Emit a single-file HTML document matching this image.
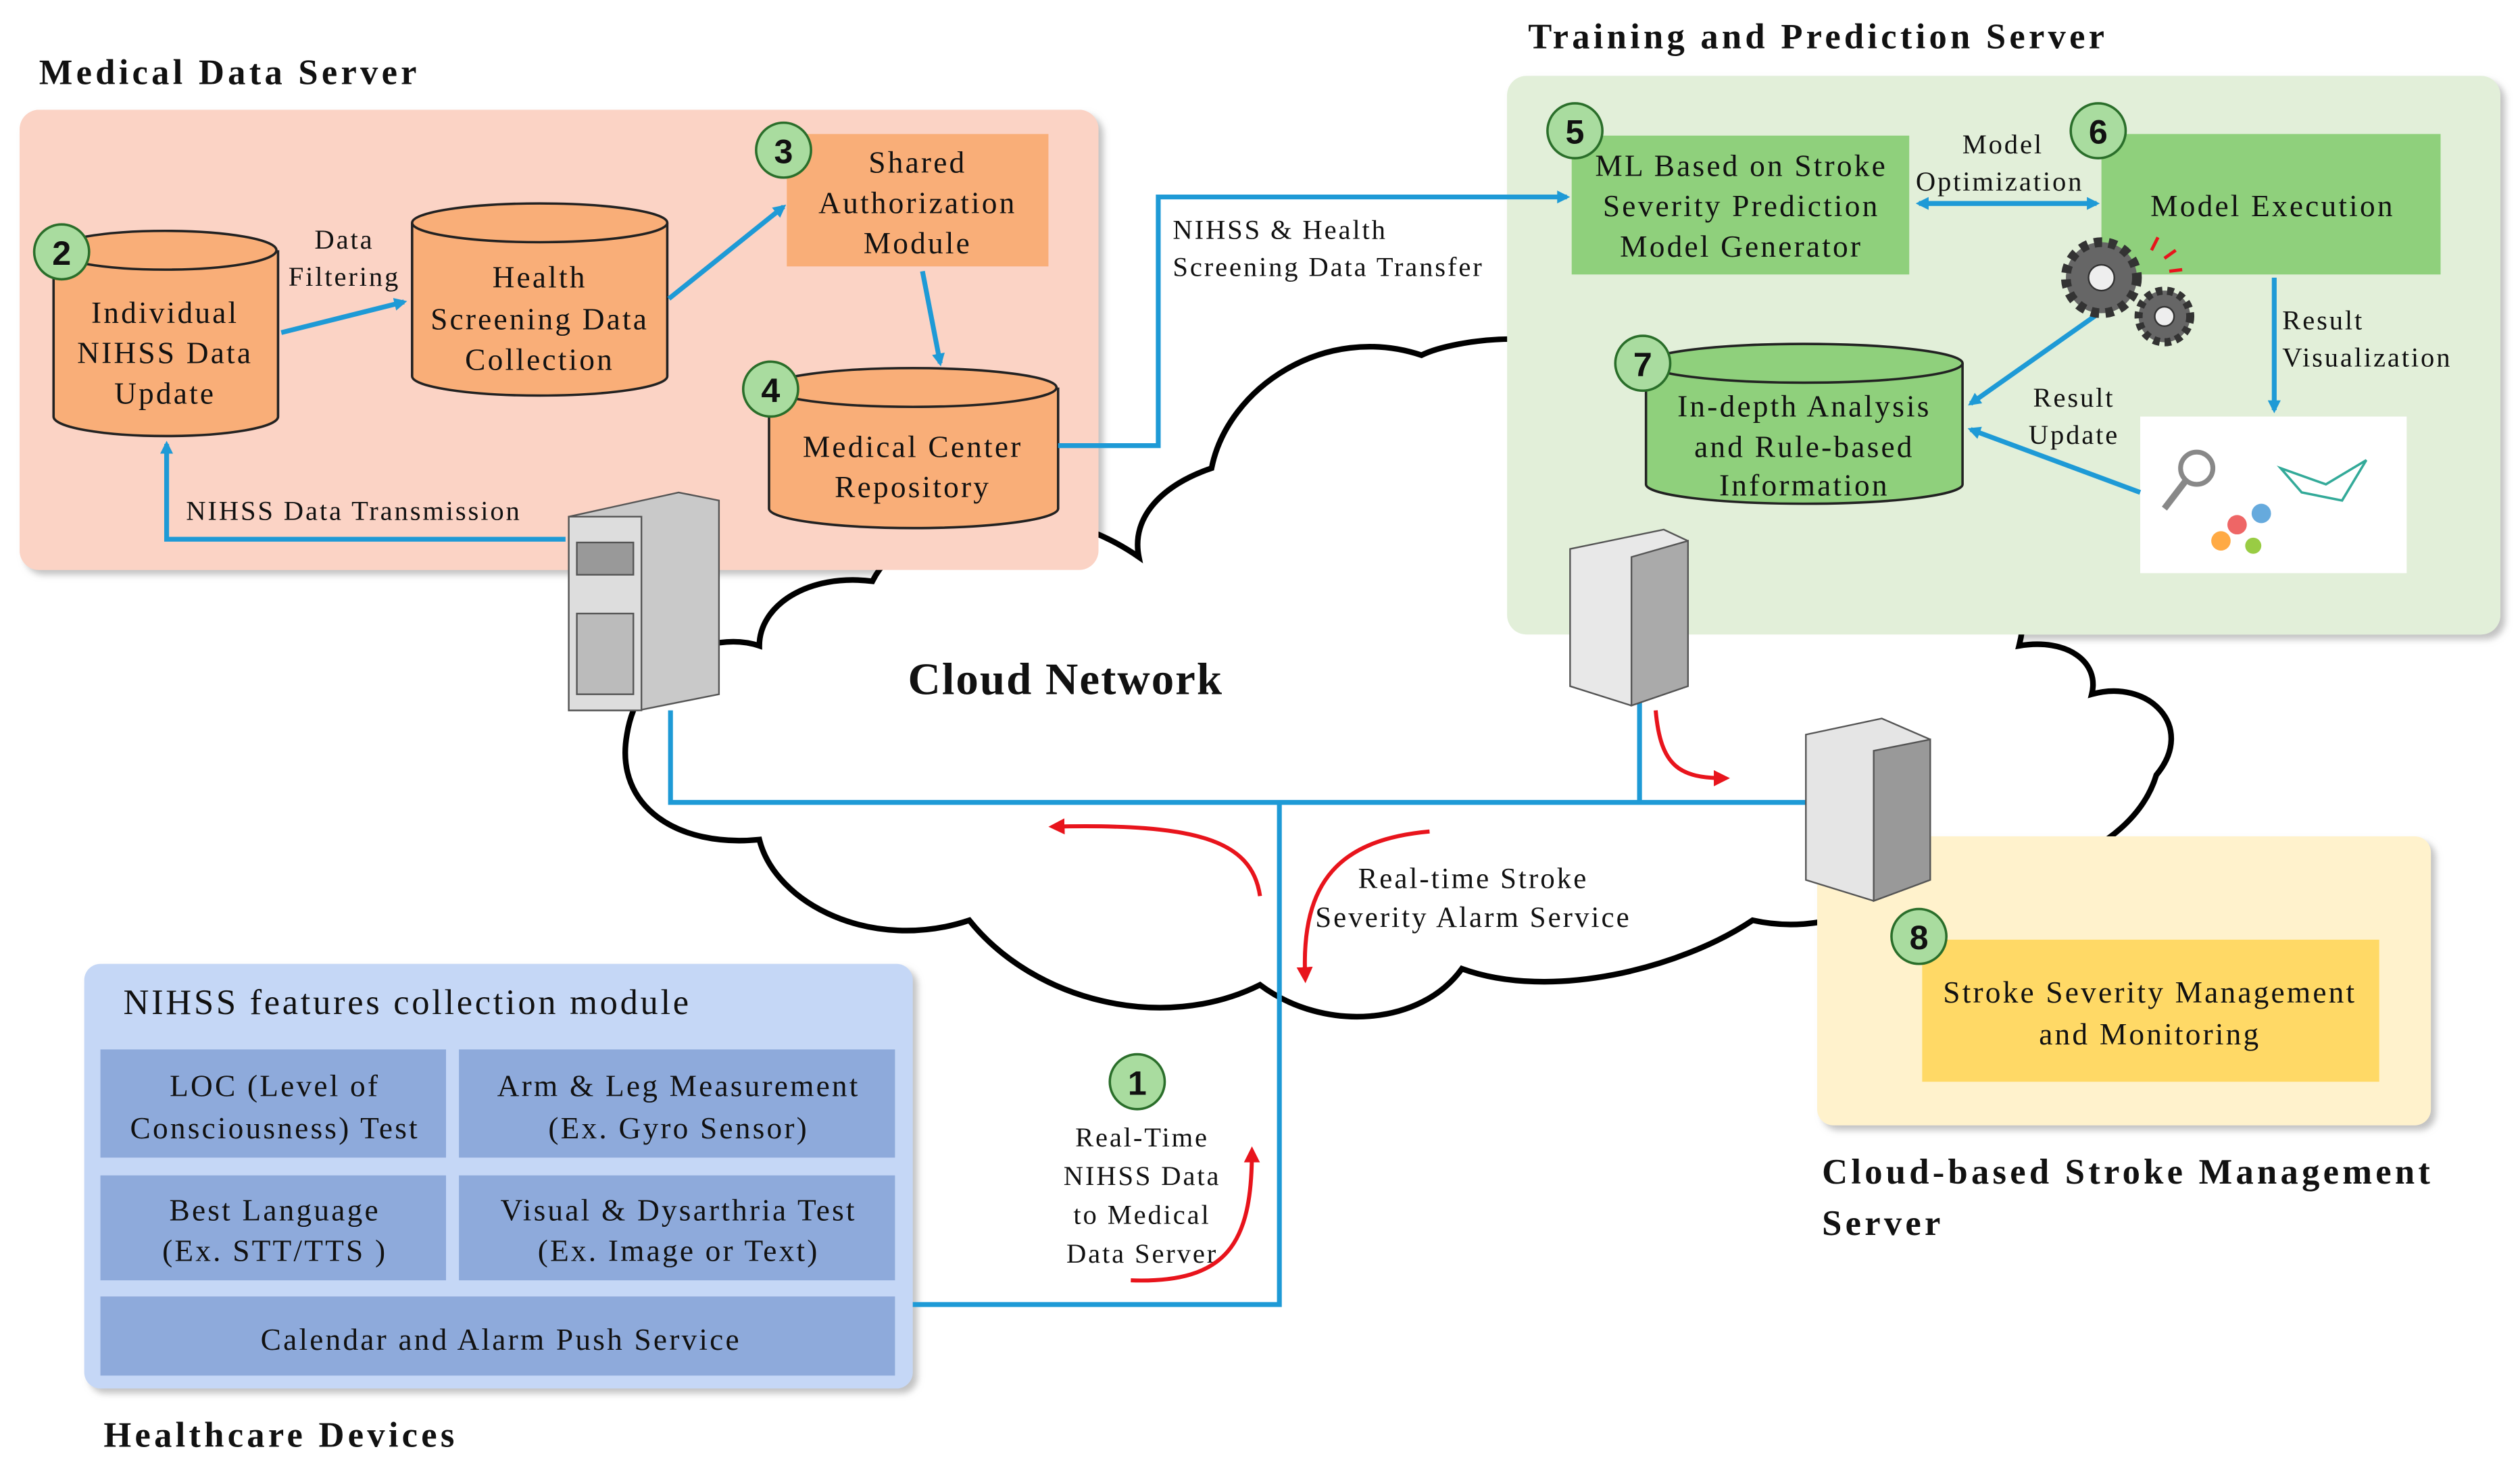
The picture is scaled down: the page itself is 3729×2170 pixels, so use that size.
<!DOCTYPE html>
<html><head><meta charset="utf-8"><style>
html,body{margin:0;padding:0;background:#fff;}
svg{display:block;}
text{font-family:"Liberation Serif",serif;fill:#111;letter-spacing:0.07em;}
.t{letter-spacing:0.1em;}
</style></head><body>
<svg width="3729" height="2170" viewBox="0 0 1560 908" xmlns="http://www.w3.org/2000/svg">
<defs>
<marker id="ab" markerWidth="8" markerHeight="8" refX="6" refY="4" orient="auto" markerUnits="userSpaceOnUse"><path d="M0,0 L8,4 L0,8 z" fill="#1e9ad6"/></marker>
<marker id="ar" markerWidth="10" markerHeight="10" refX="7" refY="5" orient="auto" markerUnits="userSpaceOnUse"><path d="M0,0 L10,5 L0,10 z" fill="#e8141c"/></marker>
<filter id="sh" x="-5%" y="-5%" width="110%" height="110%"><feDropShadow dx="3" dy="3" stdDeviation="2" flood-color="#999" flood-opacity="0.6"/></filter>
</defs>

<rect x="12" y="68" width="668" height="285" rx="12" fill="#fbd3c5" filter="url(#sh)"/>
<rect x="933" y="47" width="615" height="346" rx="12" fill="#e2efd9" filter="url(#sh)"/>

<path d="M470,400 C440,390 395,410 388,455 C380,500 420,525 470,520 C480,560 540,590 600,570 C640,620 720,640 780,610 C820,640 880,635 905,600 C960,620 1040,600 1085,570 C1130,580 1175,560 1180,530 C1240,560 1320,530 1335,480 C1360,450 1330,420 1295,430 C1300,410 1280,395 1250,400 C1260,360 1240,330 1210,325 L1150,330 C1130,260 1060,220 1000,230 C970,200 900,210 880,220 C820,200 760,240 750,290 C720,300 700,320 705,345 C640,300 560,320 540,360 C500,355 470,375 470,400 Z" fill="#fff" stroke="#000" stroke-width="3.5"/>
<rect x="12" y="68" width="668" height="285" rx="12" fill="#fbd3c5"/>
<rect x="933" y="47" width="615" height="346" rx="12" fill="#e2efd9"/>
<rect x="1125" y="518" width="380" height="179" rx="10" fill="#fff2cc" filter="url(#sh)"/>
<rect x="52" y="597" width="513" height="263" rx="10" fill="#c5d7f6" filter="url(#sh)"/>
<text x="562" y="430" font-size="28" font-weight="bold" class="t" style="letter-spacing:0.03em">Cloud Network</text>

<text x="24" y="52" font-size="22" font-weight="bold" class="t">Medical Data Server</text>
<text x="946" y="30" font-size="22" font-weight="bold" class="t">Training and Prediction Server</text>
<text x="1128" y="733" font-size="22" font-weight="bold" class="t">Cloud-based Stroke Management</text>
<text x="1128" y="765" font-size="22" font-weight="bold" class="t">Server</text>
<text x="64" y="896" font-size="22" font-weight="bold" class="t">Healthcare  Devices</text>

<g fill="#f9ae78" stroke="#222" stroke-width="1.5">
<path d="M33,155 L33,258 A69,12 0 0 0 172,258 L172,155"/><ellipse cx="102" cy="155" rx="69" ry="12"/>
<path d="M255,138 L255,233 A79,12 0 0 0 413,233 L413,138"/><ellipse cx="334" cy="138" rx="79" ry="12"/>
<path d="M476,240 L476,315 A89,12 0 0 0 655,315 L655,240"/><ellipse cx="565" cy="240" rx="89" ry="12"/>
</g>
<path d="M1019,225 L1019,300 A98,12 0 0 0 1215,300 L1215,225" fill="#8fd07c" stroke="#222" stroke-width="1.5"/>
<ellipse cx="1117" cy="225" rx="98" ry="12" fill="#8fd07c" stroke="#222" stroke-width="1.5"/>
<rect x="487" y="83" width="162" height="82" fill="#f9ae78"/>
<rect x="973" y="84" width="209" height="86" fill="#8fd07c"/>
<rect x="1301" y="83" width="210" height="87" fill="#8fd07c"/>
<rect x="1190" y="582" width="283" height="88" fill="#ffd966"/>
<rect x="1325" y="258" width="165" height="97" fill="#fff"/>
<circle cx="1360" cy="290" r="10" fill="none" stroke="#888" stroke-width="3"/><line x1="1353" y1="298" x2="1340" y2="315" stroke="#888" stroke-width="4"/>
<circle cx="1385" cy="325" r="6" fill="#e66"/><circle cx="1400" cy="318" r="6" fill="#6ad"/><circle cx="1375" cy="335" r="6" fill="#fa4"/><circle cx="1395" cy="338" r="5" fill="#9c4"/>
<path d="M1412,290 L1440,300 L1465,285 L1450,310 L1425,305 Z" fill="none" stroke="#3a9" stroke-width="1.5"/>

<g fill="#8eaadb">
<rect x="62" y="650" width="214" height="67"/><rect x="284" y="650" width="270" height="67"/>
<rect x="62" y="728" width="214" height="65"/><rect x="284" y="728" width="270" height="65"/>
<rect x="62" y="803" width="492" height="49"/>
</g>
<g font-size="19" text-anchor="middle">
<text x="170" y="679">LOC (Level of</text><text x="170" y="705">Consciousness) Test</text>
<text x="420" y="679">Arm  &amp; Leg Measurement</text><text x="420" y="705">(Ex. Gyro Sensor)</text>
<text x="170" y="756">Best Language</text><text x="170" y="781">(Ex. STT/TTS )</text>
<text x="420" y="756">Visual &amp; Dysarthria Test</text><text x="420" y="781">(Ex. Image or Text)</text>
<text x="310" y="836">Calendar  and Alarm  Push Service</text>
<text x="252" y="628" font-size="22" text-anchor="middle">NIHSS features  collection module</text>

<text x="102" y="200">Individual</text><text x="102" y="225">NIHSS Data</text><text x="102" y="250">Update</text>
<text x="334" y="178">Health</text><text x="334" y="204">Screening Data</text><text x="334" y="229">Collection</text>
<text x="568" y="107">Shared</text><text x="568" y="132">Authorization</text><text x="568" y="157">Module</text>
<text x="565" y="283">Medical Center</text><text x="565" y="308">Repository</text>
<text x="1078" y="109">ML Based on Stroke</text><text x="1078" y="134">Severity Prediction</text><text x="1078" y="159">Model Generator</text>
<text x="1407" y="134">Model Execution</text>
<text x="1117" y="258">In-depth Analysis</text><text x="1117" y="283">and Rule-based</text><text x="1117" y="307">Information</text>
<text x="1331" y="621">Stroke Severity Management</text><text x="1331" y="647">and Monitoring</text>
<text x="213" y="154" font-size="17">Data</text><text x="213" y="177" font-size="17">Filtering</text>
<text x="1240" y="95" font-size="17">Model</text><text x="1238" y="118" font-size="17">Optimization</text>
<text x="1284" y="252" font-size="17">Result</text><text x="1284" y="275" font-size="17">Update</text>
<text x="912" y="550" font-size="18">Real-time Stroke</text><text x="912" y="574" font-size="18">Severity Alarm Service</text>
<text x="707" y="710" font-size="17">Real-Time</text><text x="707" y="734" font-size="17">NIHSS Data</text><text x="707" y="758" font-size="17">to Medical</text><text x="707" y="782" font-size="17">Data Server</text>
</g>
<text x="115" y="322" font-size="17">NIHSS Data Transmission</text>
<text x="726" y="148" font-size="17">NIHSS &amp; Health</text>
<text x="726" y="171" font-size="17">Screening Data Transfer</text>
<text x="1413" y="204" font-size="17">Result</text>
<text x="1413" y="227" font-size="17">Visualization</text>

<g stroke="#1e9ad6" stroke-width="3" fill="none">
<path d="M565,808 L792,808 L792,497"/>
<path d="M415,440 L415,497 L1120,497"/>
<path d="M1015,435 L1015,497"/>
<path d="M174,206 L250,187" marker-end="url(#ab)"/>
<path d="M414,185 L485,128" marker-end="url(#ab)"/>
<path d="M571,168 L582,225" marker-end="url(#ab)"/>
<path d="M655,276 L717,276 L717,122 L970,122" marker-end="url(#ab)"/>
<path d="M350,334 L103,334 L103,275" marker-end="url(#ab)"/>
<path d="M1190,126 L1298,126" marker-end="url(#ab)"/>
<path d="M1296,126 L1188,126" marker-end="url(#ab)"/>
<path d="M1408,172 L1408,254" marker-end="url(#ab)"/>
<path d="M1298,195 L1220,250" marker-end="url(#ab)"/>
<path d="M1325,305 L1220,266" marker-end="url(#ab)"/>
</g>
<g stroke="#e8141c" stroke-width="2.5" fill="none">
<path d="M780,555 C775,520 740,510 652,512" marker-end="url(#ar)"/>
<path d="M885,515 C830,520 805,545 808,606" marker-end="url(#ar)"/>
<path d="M700,793 C760,795 775,770 775,713" marker-end="url(#ar)"/>
<path d="M1025,440 C1028,475 1040,482 1068,482" marker-end="url(#ar)"/>
</g>

<g fill="#666" stroke="#333">
<circle cx="1301" cy="172" r="22" stroke-dasharray="5 4" stroke-width="6"/><circle cx="1301" cy="172" r="8" fill="#eee"/>
<circle cx="1340" cy="196" r="16" stroke-dasharray="4 3" stroke-width="5"/><circle cx="1340" cy="196" r="6" fill="#eee"/>
</g>
<path d="M1332,155 l4,-8 M1340,160 l7,-5 M1343,168 l8,-1" stroke="#e8141c" stroke-width="2"/>

<g stroke="#555" stroke-width="1">
<polygon points="352,320 420,305 445,310 445,430 395,440 352,440" fill="#c9c9c9"/>
<rect x="352" y="320" width="45" height="120" fill="#ddd"/>
<rect x="357" y="336" width="35" height="20" fill="#999"/>
<rect x="357" y="380" width="35" height="50" fill="#bbb"/>
<polygon points="972,340 1030,328 1045,335 1045,425 1010,437 972,425" fill="#e8e8e8"/>
<polygon points="1010,345 1045,335 1045,425 1010,437" fill="#aaa"/>
<polygon points="1118,455 1165,445 1195,458 1195,545 1160,558 1118,545" fill="#e5e5e5"/>
<polygon points="1160,465 1195,458 1195,545 1160,558" fill="#999"/>
</g>

<g fill="#a9dc9f" stroke="#2a6e2a" stroke-width="1.5">
<circle cx="38" cy="156" r="17"/><circle cx="485" cy="93" r="17"/><circle cx="477" cy="241" r="17"/>
<circle cx="975" cy="81" r="17"/><circle cx="1299" cy="81" r="17"/><circle cx="1017" cy="225" r="17"/>
<circle cx="1188" cy="580" r="17"/><circle cx="704" cy="670" r="17"/>
</g>
<g font-size="21" font-weight="bold" text-anchor="middle">
<text x="38" y="164" style="font-family:'Liberation Sans',sans-serif;letter-spacing:0">2</text>
<text x="485" y="101" style="font-family:'Liberation Sans',sans-serif;letter-spacing:0">3</text>
<text x="477" y="249" style="font-family:'Liberation Sans',sans-serif;letter-spacing:0">4</text>
<text x="975" y="89" style="font-family:'Liberation Sans',sans-serif;letter-spacing:0">5</text>
<text x="1299" y="89" style="font-family:'Liberation Sans',sans-serif;letter-spacing:0">6</text>
<text x="1017" y="233" style="font-family:'Liberation Sans',sans-serif;letter-spacing:0">7</text>
<text x="1188" y="588" style="font-family:'Liberation Sans',sans-serif;letter-spacing:0">8</text>
<text x="704" y="678" style="font-family:'Liberation Sans',sans-serif;letter-spacing:0">1</text>
</g>
</svg>
</body></html>
